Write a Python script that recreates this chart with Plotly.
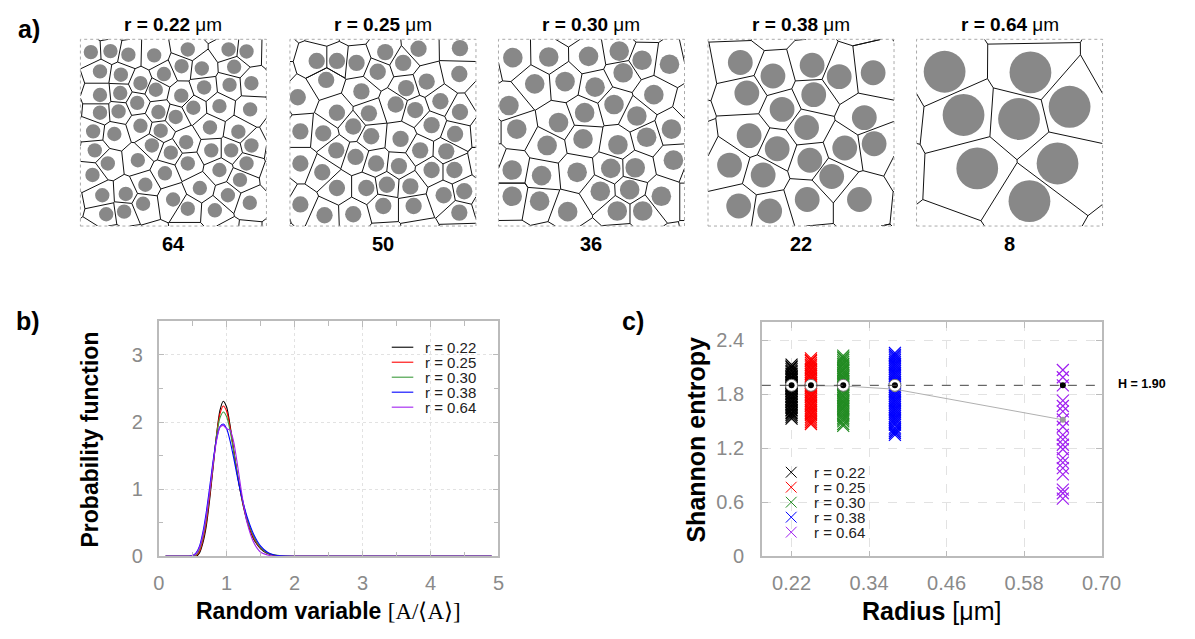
import plotly.graph_objects as go

W, H = 1195, 639
FONT = "Liberation Sans"

# ---------------- panel a data (circle centres, µm, box side 5.7 µm) ----------------
BOX = 5.7
RADII = [0.22, 0.25, 0.30, 0.38, 0.64]
COUNTS = ["64", "50", "36", "22", "8"]

A1_X = [0.32, 0.92, 1.47, 2.26, 3.29, 4.54, 5.09, 0.60, 1.24, 1.84, 2.56, 3.10, 3.72, 4.71, 4.57, 5.24,
        3.79, 2.31, 3.09, 1.22, 0.60, 1.74, 0.60, 1.17, 2.39, 2.92, 3.46, 4.26, 5.20, 0.39, 1.04, 1.84,
        2.46, 3.24, 3.97, 4.84, 0.44, 0.84, 1.76, 2.19, 2.77, 3.29, 4.01, 4.62, 5.24, 5.09, 0.37, 2.59,
        4.26, 1.99, 3.66, 4.89, 0.67, 1.39, 2.84, 4.52, 5.19, 0.79, 1.34, 1.92, 3.29, 4.12]
A1_Y = [5.31, 5.34, 5.23, 5.21, 5.39, 5.39, 5.33, 4.72, 4.62, 4.36, 4.64, 4.88, 4.81, 4.86, 4.31, 4.36,
        4.23, 4.16, 3.98, 4.06, 4.00, 3.76, 3.46, 3.50, 3.48, 3.33, 3.61, 3.66, 3.56, 2.89, 2.81, 3.06,
        2.91, 2.56, 3.01, 2.88, 2.31, 1.91, 2.01, 2.46, 2.24, 1.91, 2.31, 2.31, 2.46, 1.91, 1.56, 1.61,
        1.71, 1.26, 1.16, 1.41, 0.94, 0.98, 0.81, 0.94, 0.71, 0.36, 0.44, 0.68, 0.53, 0.48]

A2_X = [0.82, 1.44, 2.04, 2.92, 3.94, 5.21, 3.47, 2.69, 1.11, 0.24, 2.19, 3.56, 4.19, 5.19, 1.44, 2.42,
        3.24, 3.84, 4.61, 5.21, 0.32, 1.02, 1.94, 2.49, 3.39, 4.34, 5.06, 1.42, 2.01, 2.64, 3.34, 3.99,
        4.79, 0.32, 0.99, 1.44, 2.34, 2.97, 3.69, 4.34, 5.04, 5.34, 4.71, 0.32, 1.06, 1.94, 2.86, 3.79, 5.19]
A2_Y = [5.04, 5.04, 4.98, 5.31, 5.41, 5.43, 4.98, 4.71, 4.46, 3.93, 4.11, 4.21, 4.41, 4.64, 3.46, 3.44,
        3.71, 3.54, 3.81, 3.48, 2.89, 2.83, 3.04, 2.74, 2.66, 3.08, 2.81, 2.31, 2.11, 1.91, 1.83, 2.31,
        2.28, 1.91, 1.64, 1.16, 1.16, 1.26, 1.21, 1.71, 1.71, 1.06, 0.94, 0.66, 0.33, 0.36, 0.61, 0.61, 0.41]

A3_X = [0.44, 1.54, 2.76, 3.70, 4.40, 5.24, 3.82, 1.11, 2.04, 2.96, 4.76, 3.54, 0.32, 2.64, 1.84, 4.24,
        0.56, 5.30, 4.54, 1.49, 2.59, 3.66, 5.36, 0.42, 1.32, 2.41, 3.44, 4.19, 0.42, 1.26, 2.12, 3.12,
        4.02, 4.99, 3.64, 4.42]
A3_Y = [5.14, 5.16, 5.18, 5.34, 5.06, 4.94, 4.68, 4.34, 4.41, 4.24, 4.01, 3.71, 3.68, 3.46, 3.16, 3.36,
        2.96, 2.96, 2.71, 2.46, 2.66, 2.48, 2.01, 1.71, 1.54, 1.64, 1.76, 1.78, 0.91, 0.76, 0.44, 1.06,
        1.11, 0.91, 0.46, 0.46]

A4_X = [0.99, 1.99, 3.19, 4.02, 5.06, 1.19, 3.24, 2.27, 4.79, 3.02, 1.26, 2.12, 4.19, 5.09, 3.12, 0.66,
        1.69, 3.79, 3.04, 4.64, 0.94, 1.89]
A4_Y = [4.99, 4.58, 4.91, 4.56, 4.68, 4.06, 4.01, 3.56, 3.31, 3.01, 2.76, 2.36, 2.38, 2.51, 2.01, 1.86,
        1.56, 1.51, 0.81, 0.81, 0.61, 0.46]

A5_X = [0.86, 3.49, 4.69, 1.44, 3.14, 1.86, 4.32, 3.46]
A5_Y = [4.71, 4.69, 3.64, 3.39, 3.27, 1.76, 1.91, 0.76]

PANELS_X = [A1_X, A2_X, A3_X, A4_X, A5_X]
PANELS_Y = [A1_Y, A2_Y, A3_Y, A4_Y, A5_Y]

# ---------------- panel b data ----------------
B_LABELS = ["r = 0.22", "r = 0.25", "r = 0.30", "r = 0.38", "r = 0.64"]
B_X = [0.1, 0.45, 0.5, 0.55, 0.6, 0.65, 0.7, 0.75, 0.8, 0.85, 0.9, 0.95, 1.0, 1.05, 1.1, 1.15, 1.2,
       1.25, 1.3, 1.4, 1.5, 1.6, 1.7, 1.8, 2.0, 4.9]
B_022 = [0, 0, 0, 0.0, 0.05, 0.2, 0.45, 0.85, 1.32, 1.8, 2.17, 2.31, 2.22, 1.95, 1.6, 1.26, 0.97,
         0.72, 0.52, 0.25, 0.11, 0.04, 0.01, 0, 0, 0]
B_025 = [0, 0, 0, 0.01, 0.07, 0.24, 0.5, 0.9, 1.35, 1.8, 2.12, 2.24, 2.16, 1.92, 1.6, 1.27, 0.98,
         0.74, 0.54, 0.27, 0.12, 0.05, 0.015, 0, 0, 0]
B_030 = [0, 0, 0, 0.02, 0.1, 0.28, 0.56, 0.95, 1.38, 1.79, 2.06, 2.15, 2.08, 1.87, 1.58, 1.27, 0.99,
         0.76, 0.56, 0.29, 0.13, 0.05, 0.02, 0.005, 0, 0]
B_038 = [0, 0, 0.01, 0.05, 0.15, 0.36, 0.66, 1.03, 1.42, 1.74, 1.93, 1.97, 1.9, 1.72, 1.48, 1.22, 0.98,
         0.77, 0.59, 0.32, 0.15, 0.06, 0.02, 0.005, 0, 0]
B_064 = [0, 0, 0.01, 0.04, 0.13, 0.32, 0.6, 0.97, 1.38, 1.72, 1.92, 1.95, 1.9, 1.88, 1.72, 1.42, 1.08,
         0.76, 0.5, 0.2, 0.06, 0.02, 0.0, 0, 0, 0]
B_SERIES = [B_022, B_025, B_030, B_038, B_064]
B_COLORS = ["#000000", "#ff0000", "#3c9a3c", "#0000ff", "#a020f0"]

# ---------------- panel c data ----------------
C_COLORS = ["#000000", "#ff0000", "#228b22", "#0000ff", "#a020f0"]
S_022 = [2.13, 2.11, 2.10, 2.08, 2.06, 2.05, 2.03, 2.02, 2.00, 1.99, 1.97, 1.96, 1.94, 1.93, 1.92, 1.91,
         1.90, 1.89, 1.88, 1.87, 1.86, 1.84, 1.83, 1.81, 1.80, 1.78, 1.77, 1.75, 1.74, 1.72, 1.71, 1.69,
         1.68, 1.66, 1.65, 1.63, 1.62, 1.60, 1.59, 1.57, 1.55, 1.53]
S_025 = [2.20, 2.18, 2.17, 2.15, 2.13, 2.12, 2.10, 2.08, 2.07, 2.05, 2.03, 2.02, 2.00, 1.98, 1.97, 1.95,
         1.93, 1.92, 1.90, 1.88, 1.87, 1.85, 1.83, 1.82, 1.80, 1.78, 1.77, 1.75, 1.73, 1.72, 1.70, 1.68,
         1.67, 1.65, 1.63, 1.62, 1.60, 1.58, 1.57, 1.55, 1.53, 1.51, 1.49, 1.47]
S_030 = [2.23, 2.21, 2.20, 2.18, 2.16, 2.14, 2.13, 2.11, 2.09, 2.07, 2.06, 2.04, 2.02, 2.00, 1.99, 1.97,
         1.95, 1.93, 1.92, 1.90, 1.88, 1.86, 1.85, 1.83, 1.81, 1.79, 1.78, 1.76, 1.74, 1.72, 1.71, 1.69,
         1.67, 1.65, 1.64, 1.62, 1.60, 1.58, 1.56, 1.54, 1.52, 1.50, 1.47, 1.45]
S_038 = [2.26, 2.24, 2.22, 2.20, 2.18, 2.16, 2.14, 2.12, 2.10, 2.08, 2.06, 2.04, 2.02, 2.00, 1.98, 1.96,
         1.94, 1.92, 1.90, 1.88, 1.86, 1.84, 1.82, 1.80, 1.78, 1.76, 1.74, 1.72, 1.70, 1.68, 1.66, 1.64,
         1.62, 1.60, 1.58, 1.56, 1.54, 1.52, 1.50, 1.48, 1.46, 1.43, 1.41, 1.39, 1.37, 1.35]
S_064 = [2.07, 1.99, 1.90, 1.73, 1.67, 1.61, 1.52, 1.44, 1.35, 1.30, 1.24, 1.19, 1.09, 1.04, 0.98, 0.91,
         0.74, 0.70, 0.64]
S_SERIES = [S_022, S_025, S_030, S_038, S_064]
MEAN_ENTROPY = [1.89, 1.895, 1.893, 1.857, 1.517]
H_REF = 1.90

# ---------------- periodic Voronoi helpers ----------------
def clip_poly(poly, a, b, c):
    out = []
    n = len(poly)
    for i in range(n):
        P = poly[i]
        Q = poly[(i + 1) % n]
        fp = a * P[0] + b * P[1] - c
        fq = a * Q[0] + b * Q[1] - c
        if fp <= 0:
            out.append(P)
        if (fp < 0 < fq) or (fq < 0 < fp):
            t = fp / (fp - fq)
            out.append((P[0] + t * (Q[0] - P[0]), P[1] + t * (Q[1] - P[1])))
    return out


def clip_seg(x0, y0, x1, y1, L):
    t0, t1 = 0.0, 1.0
    dx, dy = x1 - x0, y1 - y0
    for p, q in ((-dx, x0), (dx, L - x0), (-dy, y0), (dy, L - y0)):
        if abs(p) < 1e-12:
            if q < 0:
                return None
        else:
            r = q / p
            if p < 0:
                t0 = max(t0, r)
            else:
                t1 = min(t1, r)
    if t0 >= t1 - 1e-9:
        return None
    return (x0 + t0 * dx, y0 + t0 * dy, x0 + t1 * dx, y0 + t1 * dy)


def voronoi_lines(xs, ys, L):
    pts = [(x + i * L, y + j * L) for i in (-1, 0, 1) for j in (-1, 0, 1) for x, y in zip(xs, ys)]
    m = 0.6 * L
    seen = set()
    lx, ly = [], []
    for (px, py) in pts:
        if not (-m <= px <= L + m and -m <= py <= L + m):
            continue
        poly = [(-2 * L, -2 * L), (3 * L, -2 * L), (3 * L, 3 * L), (-2 * L, 3 * L)]
        others = sorted(((qx - px) ** 2 + (qy - py) ** 2, qx, qy) for qx, qy in pts)
        for d2, qx, qy in others:
            if d2 < 1e-12:
                continue
            rmax2 = max((vx - px) ** 2 + (vy - py) ** 2 for vx, vy in poly)
            if d2 > 4 * rmax2:
                break
            a, b = qx - px, qy - py
            c = (qx * qx + qy * qy - px * px - py * py) / 2
            poly = clip_poly(poly, a, b, c)
        n = len(poly)
        for k in range(n):
            p1, p2 = poly[k], poly[(k + 1) % n]
            s = clip_seg(p1[0], p1[1], p2[0], p2[1], L)
            if s is None:
                continue
            if (s[0] - s[2]) ** 2 + (s[1] - s[3]) ** 2 < 1e-8:
                continue
            key = tuple(sorted([(round(s[0], 3), round(s[1], 3)), (round(s[2], 3), round(s[3], 3))]))
            if key in seen:
                continue
            seen.add(key)
            lx += [s[0], s[2], None]
            ly += [s[1], s[3], None]
    return lx, ly


fig = go.Figure()
layout = dict(width=W, height=H, margin=dict(l=0, r=0, t=0, b=0),
              paper_bgcolor="white", plot_bgcolor="white", showlegend=False,
              font=dict(family=FONT, color="#000"))

# panel a
A_LEFT = [76, 290, 503, 717, 930]
A_SIZE = 190
A_TOP = 40
shapes = []
annotations = []
for k in range(5):
    ax = k + 1
    xa = "xaxis" if ax == 1 else f"xaxis{ax}"
    ya = "yaxis" if ax == 1 else f"yaxis{ax}"
    xr = "x" if ax == 1 else f"x{ax}"
    yr = "y" if ax == 1 else f"y{ax}"
    x0 = A_LEFT[k] / W
    x1 = (A_LEFT[k] + A_SIZE) / W
    y1 = 1 - A_TOP / H
    y0 = 1 - (A_TOP + A_SIZE) / H
    layout[xa] = dict(domain=[x0, x1], range=[0, BOX], visible=False, anchor=yr, fixedrange=True)
    layout[ya] = dict(domain=[y0, y1], range=[0, BOX], visible=False, anchor=xr, fixedrange=True)
    for cx, cy in zip(PANELS_X[k], PANELS_Y[k]):
        r = RADII[k]
        shapes.append(dict(type="circle", xref=xr, yref=yr, x0=cx - r, x1=cx + r, y0=cy - r, y1=cy + r,
                           fillcolor="#888888", line=dict(width=0), layer="below"))
    lx, ly = voronoi_lines(PANELS_X[k], PANELS_Y[k], BOX)
    fig.add_trace(go.Scatter(x=lx, y=ly, mode="lines", line=dict(color="#111", width=1),
                             xaxis=xr, yaxis=yr, showlegend=False, hoverinfo="skip"))
    shapes.append(dict(type="rect", xref=f"{xr} domain", yref=f"{yr} domain", x0=0, x1=1, y0=0, y1=1,
                       line=dict(color="#aaaaaa", width=1, dash="dot")))
    cxp = (A_LEFT[k] + A_SIZE / 2) / W
    annotations.append(dict(x=cxp, y=1 - 25 / H, text=f"<b>r = {RADII[k]:.2f}</b> μm",
                            font=dict(size=19, family=FONT)))
    annotations.append(dict(x=cxp, y=1 - 248 / H, text=f"<b>{COUNTS[k]}</b>",
                            font=dict(size=20, family=FONT)))

# panel b
for lab, ys, col in zip(B_LABELS, B_SERIES, B_COLORS):
    fig.add_trace(go.Scatter(x=B_X, y=ys, mode="lines", name=lab,
                             line=dict(color=col, width=1.1, shape="spline", smoothing=0.7),
                             xaxis="x6", yaxis="y6"))

AXCOL = "#bbbbbb"
TICKFONT = dict(family=FONT, size=20, color="#8a8a8a")
layout["xaxis6"] = dict(domain=[156 / W, 503 / W], range=[0, 5], anchor="y6", dtick=1, tick0=0,
                        showline=True, linecolor=AXCOL, linewidth=1.5, mirror="ticks",
                        ticks="inside", ticklen=6, tickcolor=AXCOL, tickfont=TICKFONT,
                        ticklabelstandoff=8,
                        showgrid=True, gridcolor="#e2e2e2", griddash="dot", zeroline=False,
                        minor=dict(dtick=0.5, ticks="inside", ticklen=5, tickcolor=AXCOL, showgrid=False))
layout["yaxis6"] = dict(domain=[1 - 566 / H, 1 - 327 / H], range=[0, 3.5], anchor="x6", dtick=1, tick0=0,
                        showline=True, linecolor=AXCOL, linewidth=1.5, mirror="ticks",
                        ticks="inside", ticklen=6, tickcolor=AXCOL, tickfont=TICKFONT,
                        ticklabelstandoff=10,
                        showgrid=True, gridcolor="#e2e2e2", griddash="dot", zeroline=False,
                        minor=dict(dtick=0.5, ticks="inside", ticklen=5, tickcolor=AXCOL, showgrid=False))

# legend b (drawn as keys + labels)
LEG_B_X0, LEG_B_X1, LEG_B_TX, LEG_B_Y0, LEG_STEP = 394, 416, 426, 353.3, 15.25
for i, (lab, col) in enumerate(zip(B_LABELS, B_COLORS)):
    yy = 1 - (LEG_B_Y0 + i * LEG_STEP) / H
    shapes.append(dict(type="line", xref="paper", yref="paper", x0=LEG_B_X0 / W, x1=LEG_B_X1 / W,
                       y0=yy, y1=yy, line=dict(color=col, width=1.1)))
    annotations.append(dict(x=LEG_B_TX / W, y=yy, text=lab, xanchor="left",
                            font=dict(size=15, family=FONT, color="#222")))

# panel c
for k in range(5):
    fig.add_trace(go.Scatter(x=[RADII[k]] * len(S_SERIES[k]), y=S_SERIES[k], mode="markers",
                             name=B_LABELS[k],
                             marker=dict(symbol="x-thin", size=12,
                                         line=dict(color=C_COLORS[k], width=1.2)),
                             xaxis="x7", yaxis="y7"))
fig.add_trace(go.Scatter(x=RADII, y=MEAN_ENTROPY, mode="lines+markers",
                         line=dict(color="#b0b0b0", width=1), marker=dict(size=6, color="#9a9a9a"),
                         xaxis="x7", yaxis="y7"))
fig.add_trace(go.Scatter(x=RADII[:4], y=[H_REF] * 4, mode="markers",
                         marker=dict(size=12, color="white", line=dict(color="#777", width=1)),
                         xaxis="x7", yaxis="y7"))
fig.add_trace(go.Scatter(x=RADII, y=[H_REF] * 5, mode="markers",
                         marker=dict(size=6, color="black"),
                         xaxis="x7", yaxis="y7"))
shapes.append(dict(type="line", xref="x7 domain", yref="y7", x0=0, x1=1, y0=H_REF, y1=H_REF,
                   line=dict(color="#444", width=1, dash="dash")))

layout["xaxis7"] = dict(domain=[772 / W, 1119 / W], range=[0.174, 0.70], anchor="y7",
                        tick0=0.22, dtick=0.12, tickformat=".2f",
                        showline=True, linecolor=AXCOL, linewidth=1.5, mirror="ticks",
                        ticks="inside", ticklen=6, tickcolor=AXCOL, tickfont=TICKFONT,
                        ticklabelstandoff=8,
                        showgrid=True, gridcolor="#e2e2e2", griddash="dash", zeroline=False)
layout["yaxis7"] = dict(domain=[1 - 566 / H, 1 - 328 / H], range=[0, 2.6], anchor="x7",
                        tick0=0, dtick=0.6,
                        showline=True, linecolor=AXCOL, linewidth=1.5, mirror="ticks",
                        ticks="inside", ticklen=6, tickcolor=AXCOL, tickfont=TICKFONT,
                        ticklabelstandoff=12,
                        showgrid=True, gridcolor="#e2e2e2", griddash="dash", zeroline=False)

# legend c (drawn as X keys + labels)
LEG_C_X, LEG_C_TX, LEG_C_Y0, LEG_C_HALF = 802, 823, 480.5, 5.5
for i, (lab, col) in enumerate(zip(B_LABELS, C_COLORS)):
    yc = LEG_C_Y0 + i * LEG_STEP
    for s in (1, -1):
        shapes.append(dict(type="line", xref="paper", yref="paper",
                           x0=(LEG_C_X - LEG_C_HALF) / W, x1=(LEG_C_X + LEG_C_HALF) / W,
                           y0=1 - (yc - s * LEG_C_HALF) / H, y1=1 - (yc + s * LEG_C_HALF) / H,
                           line=dict(color=col, width=1)))
    annotations.append(dict(x=LEG_C_TX / W, y=1 - yc / H, text=lab, xanchor="left",
                            font=dict(size=15, family=FONT, color="#222")))

# labels
annotations += [
    dict(x=24 / W, y=1 - 29 / H, text="<b>a)</b>", font=dict(size=25, family=FONT)),
    dict(x=22 / W, y=1 - 327 / H, text="<b>b)</b>", font=dict(size=25, family=FONT)),
    dict(x=640 / W, y=1 - 327 / H, text="<b>c)</b>", font=dict(size=25, family=FONT)),
    dict(x=86 / W, y=1 - 447 / H, text="<b>Probability function</b>", textangle=-90,
         font=dict(size=23, family=FONT)),
    dict(x=329 / W, y=1 - 622 / H,
         text="<b>Random variable</b> <span style=\"font-family:'Liberation Serif'\">[A/⟨A⟩]</span>",
         font=dict(size=23, family=FONT)),
    dict(x=705 / W, y=1 - 447 / H, text="<b>Shannon entropy</b>", textangle=-90,
         font=dict(size=25, family=FONT)),
    dict(x=945 / W, y=1 - 622 / H, text="<b>Radius</b> [μm]", font=dict(size=25, family=FONT)),
    dict(x=1160 / W, y=1 - 391 / H, text="<b>H = 1.90</b>", font=dict(size=12.5, family=FONT)),
]
for a in annotations:
    a.setdefault("xref", "paper")
    a.setdefault("yref", "paper")
    a.setdefault("showarrow", False)
    a.setdefault("xanchor", "center")
    a.setdefault("yanchor", "middle")

layout["shapes"] = shapes
layout["annotations"] = annotations
fig.update_layout(**layout)
fig.write_html("out.html",
               post_script="document.body.style.margin='0';document.body.style.overflow='hidden';")
